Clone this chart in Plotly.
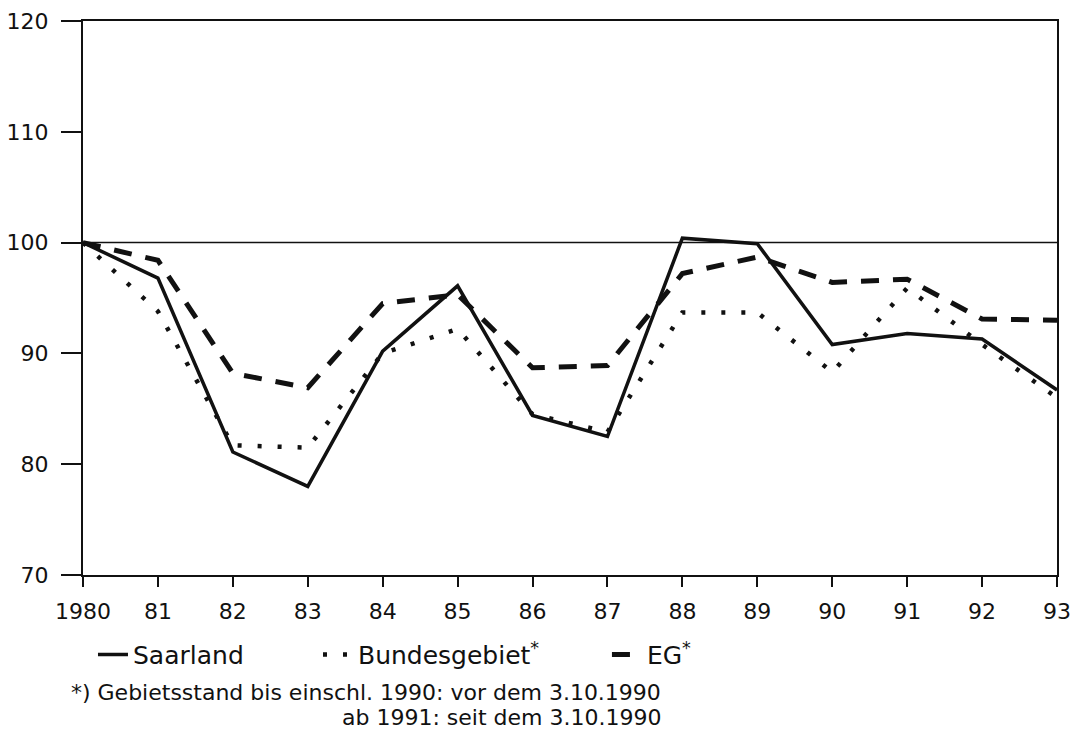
import plotly.graph_objects as go

years = list(range(1980, 1994))
tick_text = ["1980", "81", "82", "83", "84", "85", "86", "87", "88", "89", "90", "91", "92", "93"]
y_ticks = [70, 80, 90, 100, 110, 120]
saarland = [100.0, 96.8, 81.1, 78.0, 90.2, 96.1, 84.4, 82.5, 100.4, 99.9, 90.8, 91.8, 91.3, 86.7]
bundesgebiet = [100.0, 93.8, 81.7, 81.5, 90.0, 92.2, 84.5, 82.9, 93.7, 93.7, 88.3, 95.9, 90.8, 86.0]
eg = [100.0, 98.4, 88.2, 86.9, 94.5, 95.3, 88.7, 88.9, 97.2, 98.7, 96.4, 96.7, 93.1, 93.0]

font = "DejaVu Sans, Arial, sans-serif"
ink = "#111"

fig = go.Figure()
fig.add_trace(go.Scatter(x=years, y=saarland, mode="lines", name="Saarland", legend="legend",
                         line=dict(color=ink, width=3.5)))
fig.add_trace(go.Scatter(x=years, y=bundesgebiet, mode="lines", name="Bundesgebiet<sup>*</sup>",
                         legend="legend2", line=dict(color=ink, width=4.5, dash="4px,16px")))
fig.add_trace(go.Scatter(x=years, y=eg, mode="lines", name="EG<sup>*</sup>", legend="legend3",
                         line=dict(color=ink, width=5, dash="18px,14px")))

fig.add_shape(type="line", xref="paper", x0=0, x1=1, yref="y", y0=100, y1=100,
              line=dict(color=ink, width=1.5))

leg_common = dict(orientation="h", xanchor="left", yanchor="middle", y=0.103,
                  xref="container", yref="container",
                  font=dict(size=25, family=font, color=ink), bgcolor="rgba(0,0,0,0)")

fig.update_layout(
    width=1075, height=730,
    margin=dict(l=83, r=18, t=21, b=155, autoexpand=False),
    paper_bgcolor="white", plot_bgcolor="white",
    font=dict(family=font, color=ink, size=22),
    showlegend=True,
    legend=dict(x=0.0865, **leg_common),
    legend2=dict(x=0.2958, **leg_common),
    legend3=dict(x=0.5646, **leg_common),
    xaxis=dict(range=[1980, 1993], tickvals=years, ticktext=tick_text, automargin=False,
               showgrid=False, zeroline=False, showline=True, linecolor=ink, linewidth=2,
               mirror=True, ticks="outside", ticklen=10, tickwidth=1.5, tickcolor=ink,
               ticklabelstandoff=6, tickfont=dict(size=22)),
    yaxis=dict(range=[70, 120], tickvals=y_ticks, automargin=False,
               showgrid=False, zeroline=False, showline=True, linecolor=ink, linewidth=2,
               mirror=True, ticks="outside", ticklen=20, tickwidth=1.5, tickcolor=ink,
               ticklabelstandoff=8, tickfont=dict(size=22)),
    annotations=[
        dict(text="*) Gebietsstand bis einschl. 1990: vor dem 3.10.1990", xref="paper", yref="paper",
             x=0.5955, y=-0.2112, xanchor="right", yanchor="middle", showarrow=False,
             font=dict(size=22)),
        dict(text="ab 1991: seit dem 3.10.1990", xref="paper", yref="paper",
             x=0.5955, y=-0.2581, xanchor="right", yanchor="middle", showarrow=False,
             font=dict(size=22)),
    ],
)

fig.write_html("out.html", config={"displayModeBar": False},
               post_script="document.body.style.margin='0';")
